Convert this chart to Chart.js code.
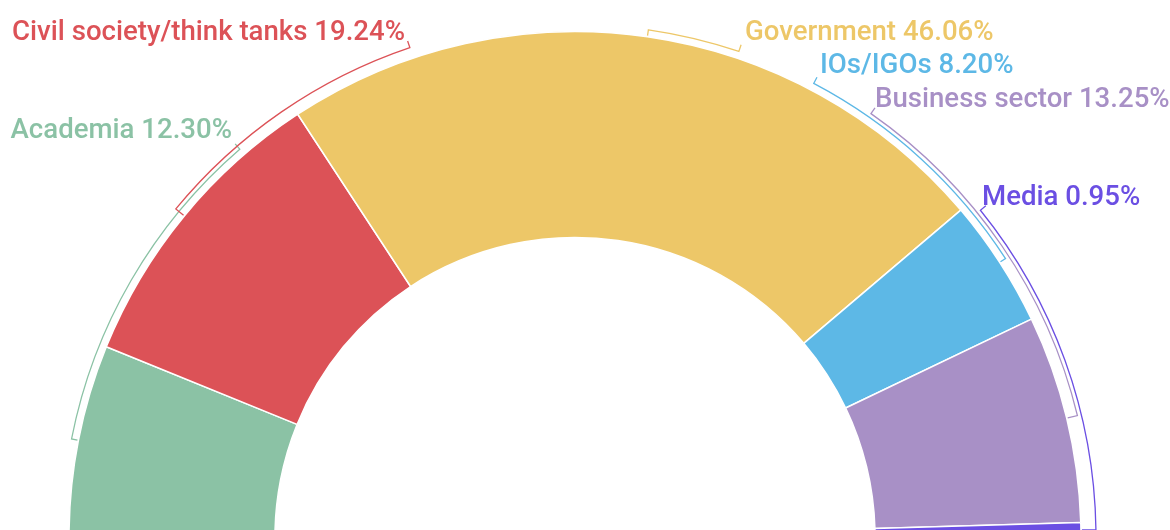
<!DOCTYPE html>
<html>
<head>
<meta charset="utf-8">
<script src="https://cdn.jsdelivr.net/npm/chart.js@4/dist/chart.umd.min.js"></script>
<style>
  html, body { margin: 0; padding: 0; background: #ffffff; overflow: hidden; }
  #wrap { width: 1170px; height: 530px; }
</style>
</head>
<body>
<div id="wrap"><canvas id="chart" width="1170" height="530"></canvas></div>
<script>
// Share of participants by stakeholder group (%)
const categories = ['Academia', 'Civil society/think tanks', 'Government', 'IOs/IGOs', 'Business sector', 'Media'];
const shares = [12.30, 19.24, 46.06, 8.20, 13.25, 0.95];
const colors = ['#8BC2A5', '#DC5257', '#EDC768', '#5DB8E6', '#A890C6', '#6B4FE3'];

// Label layout: text edge x, baseline y, alignment, and bracket ring offset
const labelX = [232, 405, 745, 820, 875, 982];
const labelY = [138, 40, 40, 73, 107, 205];
const labelAlign = ['right', 'right', 'left', 'left', 'left', 'left'];
const bracketGap = [7, 11, 7, 7, 11, 15];

const fmt = v => v.toFixed(2) + '%';

// Draws a thin bracket from each slice's middle along the rim to its label
const bracketLabels = {
  id: 'bracketLabels',
  afterDatasetsDraw(chart) {
    const ctx = chart.ctx;
    const meta = chart.getDatasetMeta(0);
    ctx.save();
    meta.data.forEach((arc, i) => {
      const p = arc.getProps(['x', 'y', 'startAngle', 'endAngle', 'outerRadius'], true);
      const cx = p.x, cy = p.y;
      const mid = (p.startAngle + p.endAngle) / 2;
      const rEdge = p.outerRadius + 1;
      const rB = p.outerRadius + bracketGap[i];
      const ax = labelAlign[i] === 'right' ? labelX[i] + 5 : labelX[i] - 5;
      const ay = labelY[i] + 8;
      const end = Math.atan2(ay - cy, ax - cx);

      ctx.strokeStyle = colors[i];
      ctx.lineWidth = 1.3;
      ctx.beginPath();
      ctx.moveTo(cx + rEdge * Math.cos(mid), cy + rEdge * Math.sin(mid));
      ctx.lineTo(cx + rB * Math.cos(mid), cy + rB * Math.sin(mid));
      ctx.arc(cx, cy, rB, mid, end, end < mid);
      ctx.lineTo(cx + (rB + 7) * Math.cos(end), cy + (rB + 7) * Math.sin(end));
      ctx.stroke();

      ctx.fillStyle = colors[i];
      ctx.font = '500 27.6px Roboto';
      ctx.textAlign = labelAlign[i];
      ctx.textBaseline = 'alphabetic';
      ctx.fillText(categories[i] + ' ' + fmt(shares[i]), labelX[i], labelY[i]);
    });
    ctx.restore();
  }
};

new Chart(document.getElementById('chart'), {
  type: 'doughnut',
  data: {
    labels: categories,
    datasets: [{
      data: shares,
      backgroundColor: colors,
      borderColor: '#ffffff',
      borderWidth: 1.5,
      hoverOffset: 0
    }]
  },
  options: {
    responsive: false,
    devicePixelRatio: 1,
    animation: false,
    events: [],
    rotation: -90,
    circumference: 180,
    radius: 506,
    cutout: '59.3%',
    layout: { padding: { top: 39, right: 20, bottom: 0, left: 0 } },
    plugins: {
      legend: { display: false },
      tooltip: { enabled: false },
      title: { display: false }
    }
  },
  plugins: [bracketLabels]
});
</script>
</body>
</html>
